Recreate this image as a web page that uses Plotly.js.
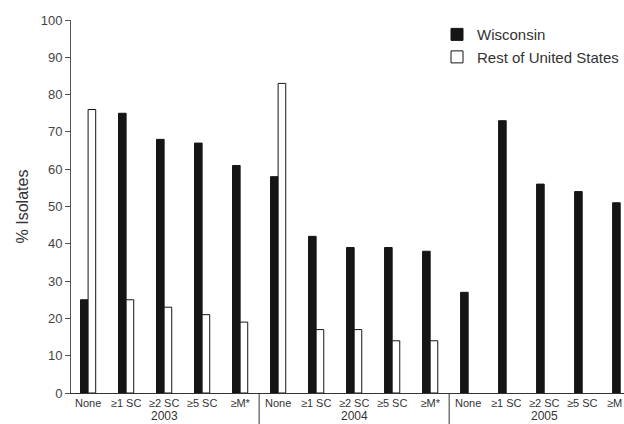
<!DOCTYPE html>
<html><head><meta charset="utf-8">
<script src="https://cdn.plot.ly/plotly-3.0.1.min.js"></script>
<style>body{margin:0;background:#fff}#c{width:624px;height:424px}</style>
</head><body><div id="c"></div>
<script>
const years = ["2003", "2004", "2005"];
const measures = ["None", "≥1 SC", "≥2 SC", "≥5 SC", "≥M*"];
const lastMeasures = ["None", "≥1 SC", "≥2 SC", "≥5 SC", "≥M"];
const wisconsin = [25, 75, 68, 67, 61, 58, 42, 39, 39, 38, 27, 73, 56, 54, 51];
const restUS = [76, 25, 23, 21, 19, 83, 17, 17, 14, 14, null, null, null, null, null];

const tickText = [];
years.forEach((y, i) => (i === years.length - 1 ? lastMeasures : measures).forEach(m => tickText.push(m)));
const idx = tickText.map((_, i) => i);
// the right-most label is drawn as an annotation pinned to the right edge
const shownText = tickText.slice();
const lastLabel = shownText[shownText.length - 1];
shownText[shownText.length - 1] = '';

const traces = [
  {type: 'bar', name: 'Wisconsin', x: idx, y: wisconsin,
   marker: {color: '#151515', line: {color: '#151515', width: 1}}},
  {type: 'bar', name: 'Rest of United States', x: idx, y: restUS,
   marker: {color: '#ffffff', line: {color: '#151515', width: 1}}}
];

const n = measures.length;
const shapes = [];
const annotations = [];
years.forEach((y, i) => {
  annotations.push({x: i * n + (n - 1) / 2, y: 0, xref: 'x', yref: 'paper', yanchor: 'middle',
    yshift: -23, text: y, showarrow: false, font: {size: 12, color: '#333'}});
  if (i > 0) {
    shapes.push({type: 'line', xref: 'x', yref: 'paper', x0: i * n - 0.5, x1: i * n - 0.5,
      y0: 0, y1: -0.09, line: {color: '#333', width: 1}});
  }
});
annotations.push({x: 1, y: 0, xref: 'paper', yref: 'paper', xanchor: 'right', yanchor: 'middle',
  yshift: -10, text: lastLabel, showarrow: false, font: {size: 11, color: '#333'}});

const layout = {
  width: 624, height: 424,
  margin: {l: 71, r: 0, t: 20, b: 31},
  paper_bgcolor: '#fff', plot_bgcolor: '#fff',
  font: {family: 'Liberation Sans, Arial, sans-serif', color: '#333'},
  barmode: 'group', bargap: 0.6, bargroupgap: 0,
  showlegend: true,
  legend: {x: 0.662, y: 1.005, xanchor: 'left', yanchor: 'top', bgcolor: 'rgba(0,0,0,0)',
    font: {size: 15, color: '#333'}, itemwidth: 30, tracegroupgap: 0},
  xaxis: {range: [-0.45, 14.1], tickmode: 'array', tickvals: idx, ticktext: shownText,
    tickangle: 0, ticks: '', showgrid: false, zeroline: false,
    showline: true, linecolor: '#333', linewidth: 1, tickfont: {size: 11, color: '#333'}},
  yaxis: {range: [0, 100], dtick: 10, ticks: 'outside', ticklen: 5, tickcolor: '#555',
    showgrid: false, zeroline: false, showline: true, linecolor: '#555', linewidth: 1,
    tickfont: {size: 13, color: '#444'},
    title: {text: '% Isolates', font: {size: 16, color: '#333'}, standoff: 8}},
  shapes: shapes, annotations: annotations
};

Plotly.newPlot('c', traces, layout, {displayModeBar: false, staticPlot: true});
</script>
</body></html>
